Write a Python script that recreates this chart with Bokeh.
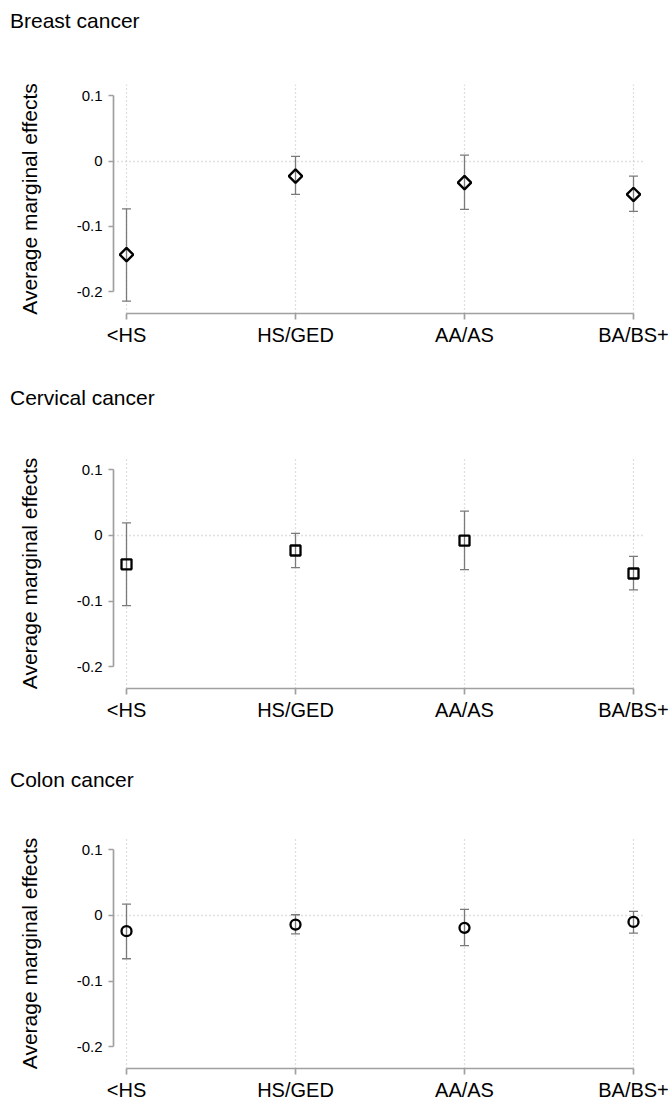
import numpy as np
from bokeh.plotting import figure
from bokeh.layouts import column
from bokeh.models import Range1d, FixedTicker, Div, ColumnDataSource
from bokeh.embed import file_html
from bokeh.resources import INLINE

# ---- data ----
categories = ["<HS", "HS/GED", "AA/AS", "BA/BS+"]
panel_titles = ["Breast cancer", "Cervical cancer", "Colon cancer"]

breast_est = [-0.143, -0.023, -0.033, -0.051]
breast_lo = [-0.214, -0.051, -0.074, -0.077]
breast_hi = [-0.073, 0.007, 0.009, -0.023]

cervical_est = [-0.044, -0.023, -0.008, -0.058]
cervical_lo = [-0.107, -0.049, -0.052, -0.083]
cervical_hi = [0.019, 0.003, 0.037, -0.032]

colon_est = [-0.024, -0.014, -0.019, -0.010]
colon_lo = [-0.066, -0.028, -0.046, -0.027]
colon_hi = [0.017, 0.001, 0.009, 0.006]

y_ticks = [-0.2, -0.1, 0, 0.1]
y_tick_labels = ["-0.2", "-0.1", "0", "0.1"]

FONT = "Liberation Sans"
AXIS_COLOR = "#a0a0a0"
GRID_COLOR = "#c0c0c0"
WHISKER_COLOR = "#7a7a7a"
WIDTH = 671


def make_title(text, top_margin):
    return Div(text=text, width=300, height=24, margin=(top_margin, 0, 0, 10),
               styles={"font-family": FONT, "font-size": "21px", "color": "black",
                       "line-height": "24px", "white-space": "nowrap"})


def make_panel(est, lo, hi, marker, angle, msize, height, top, bottom):
    xs = list(range(1, len(categories) + 1))
    p = figure(width=WIDTH, height=height, output_backend="svg", toolbar_location=None,
               x_range=Range1d(0.923, 4.071), y_range=Range1d(-0.233, 0.117),
               min_border_left=113, min_border_right=WIDTH - 645,
               min_border_top=top, min_border_bottom=bottom)
    p.outline_line_color = None
    p.background_fill_color = "white"
    p.border_fill_color = "white"

    # axes
    p.xaxis.ticker = FixedTicker(ticks=xs)
    p.xaxis.major_label_overrides = {x: c for x, c in zip(xs, categories)}
    p.xaxis.bounds = (1, 4)
    p.yaxis.ticker = FixedTicker(ticks=y_ticks)
    p.yaxis.major_label_overrides = {t_: l for t_, l in zip(y_ticks, y_tick_labels)}
    p.yaxis.bounds = (-0.2, 0.1)
    for ax in (p.xaxis, p.yaxis):
        ax.axis_line_color = AXIS_COLOR
        ax.axis_line_width = 1.7
        ax.major_tick_line_color = AXIS_COLOR
        ax.major_tick_line_width = 1.7
        ax.minor_tick_line_color = None
        ax.major_tick_in = 0
        ax.major_label_text_font = FONT
        ax.major_label_text_color = "black"
    p.xaxis.major_tick_out = 6
    p.xaxis.major_label_standoff = 4
    p.xaxis.major_label_text_font_size = "20px"
    p.yaxis.major_tick_out = 5
    p.yaxis.major_label_standoff = 6
    p.yaxis.major_label_text_font_size = "15px"
    p.yaxis.axis_label = "Average marginal effects"
    p.yaxis.axis_label_text_font = FONT
    p.yaxis.axis_label_text_font_size = "21px"
    p.yaxis.axis_label_text_font_style = "normal"
    p.yaxis.axis_label_text_color = "black"
    p.yaxis.axis_label_standoff = 33

    # grids
    p.xgrid.ticker = FixedTicker(ticks=xs)
    p.ygrid.ticker = FixedTicker(ticks=[0])
    for g in (p.xgrid, p.ygrid):
        g.grid_line_color = GRID_COLOR
        g.grid_line_dash = "1 3"
        g.grid_line_width = 1.3

    src = ColumnDataSource(dict(x=xs, est=est, lo=lo, hi=hi))
    p.segment(x0="x", y0="lo", x1="x", y1="hi", source=src,
              line_color=WHISKER_COLOR, line_width=1.3)
    p.scatter(x="x", y="lo", source=src, marker="dash", size=9,
              line_color=WHISKER_COLOR, line_width=1.3)
    p.scatter(x="x", y="hi", source=src, marker="dash", size=9,
              line_color=WHISKER_COLOR, line_width=1.3)
    p.scatter(x="x", y="est", source=src, marker=marker, angle=angle, size=msize,
              line_color="black", line_width=2.3, fill_color=None)
    return p


t1 = make_title(panel_titles[0], 9)
p1 = make_panel(breast_est, breast_lo, breast_hi, "square", np.pi / 4, 9.5, 353, 51, 73)
t2 = make_title(panel_titles[1], 0)
p2 = make_panel(cervical_est, cervical_lo, cervical_hi, "square", 0.0, 10, 358, 48, 80)
t3 = make_title(panel_titles[2], 0)
p3 = make_panel(colon_est, colon_lo, colon_hi, "circle", 0.0, 10, 311, 46, 34)

layout = column(t1, p1, t2, p2, t3, p3, spacing=0)
open("out.html", "w").write(file_html(layout, INLINE))
